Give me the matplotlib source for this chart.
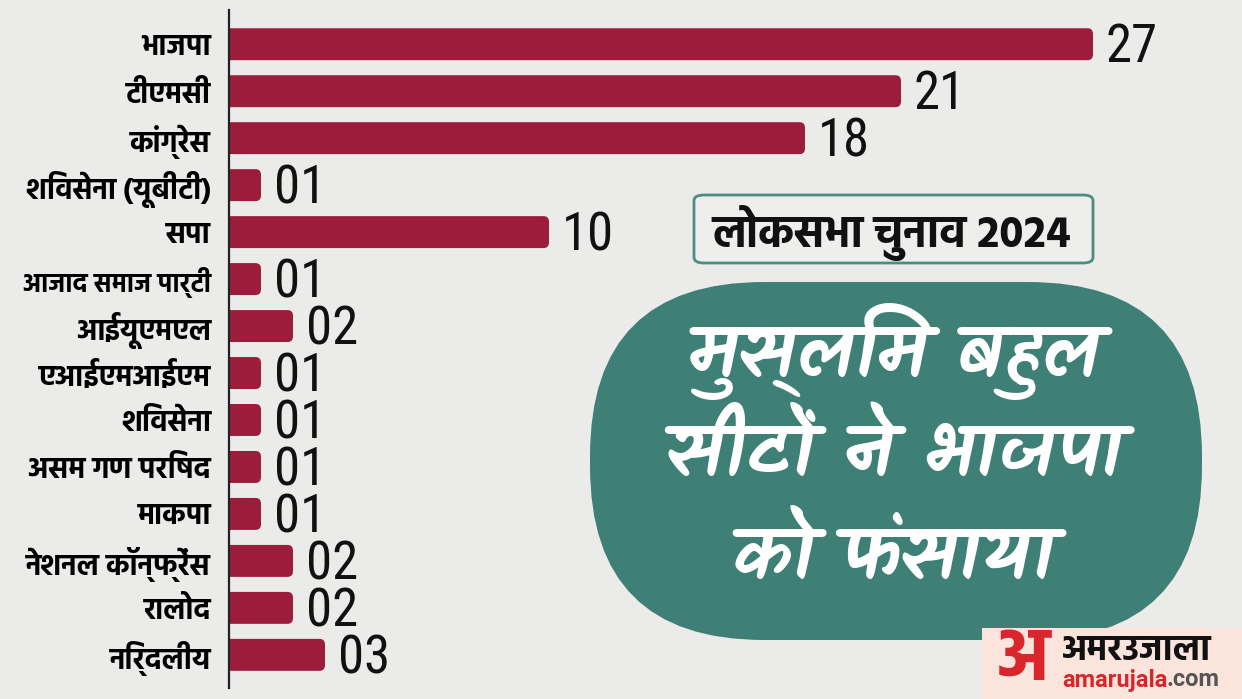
import matplotlib
matplotlib.use("Agg")
import matplotlib.pyplot as plt
from matplotlib import font_manager
from matplotlib.patches import FancyBboxPatch, Rectangle

# data
parties = ['भाजपा', 'टीएमसी', 'कांग्रेस', 'शिवसेना (यूबीटी)', 'सपा', 'आजाद समाज पार्टी',
           'आईयूएमएल', 'एआईएमआईएम', 'शिवसेना', 'असम गण परिषद', 'माकपा',
           'नेशनल कॉन्फ्रेंस', 'रालोद', 'निर्दलीय']
seats = [27, 21, 18, 1, 10, 1, 2, 1, 1, 1, 1, 2, 2, 3]
seat_labels = ['27', '21', '18', '01', '10', '01', '02', '01', '01', '01', '01', '02', '02', '03']
title_box = 'लोकसभा चुनाव 2024'
headline = ['मुस्लिम बहुल', 'सीटों ने भाजपा', 'को फंसाया']

BAR = '#9b1c3b'
TEAL = '#3e7f76'
BG = '#ebebea'

names = {f.name for f in font_manager.fontManager.ttflist}


def pick(*prefs):
    for p in prefs:
        if p in names:
            return p
    return 'DejaVu Sans'


HIND = pick('Hind', 'Ek Mukta', 'Mukta', 'FreeSans')
HAND = pick('Kalam', 'Amita', 'Hind')
NUM = pick('Roboto Condensed', 'Barlow Condensed', 'Oswald', 'Archivo Narrow',
           'Liberation Sans Narrow', 'Roboto')
plt.rcParams['font.family'] = [HIND, 'DejaVu Sans']

W, H = 1242, 699
fig = plt.figure(figsize=(W / 100, H / 100), dpi=100, facecolor=BG)


def fx(px):
    return px / W


def fy(py):
    return 1 - py / H


# bar axes: spine at 229px, 32px per seat, bar centres 42..657px
ax = fig.add_axes([fx(229), fy(688), fx(W - 229), (688 - 10) / H])
ax.set_facecolor('none')
ypos = list(range(len(parties)))
bars = ax.barh(ypos, seats, height=0.68, color=BAR)
ax.set_xlim(0, (W - 229) / 32)
ax.set_ylim(len(parties) - 1 + (688 - 657) / 43.93, -(42 - 10) / 43.93)

# swap the plain bars for ones with rounded ends (left end hides past the spine)
for r in bars:
    x0, y0 = r.get_x(), r.get_y()
    w, h = r.get_width(), r.get_height()
    r.set_visible(False)
    ax.add_patch(FancyBboxPatch((x0 - 0.4, y0), w + 0.4, h,
                                boxstyle='round,pad=0,rounding_size=0.17',
                                mutation_aspect=32 / 43.93,
                                facecolor=BAR, edgecolor='none'))

ax.set_yticks(ypos)
ax.set_yticklabels(parties, fontsize=21, fontweight='bold', family=[HIND, 'DejaVu Sans'])
ax.get_yticklabels()[5].set_fontsize(18.5)
ax.tick_params(axis='y', length=0, pad=13)
ax.set_xticks([])
for s in ['top', 'right', 'bottom']:
    ax.spines[s].set_visible(False)
ax.spines['left'].set_linewidth(1.6)
ax.spines['left'].set_color('#222222')
ax.spines['left'].set_zorder(5)

for y, v, lab in zip(ypos, seats, seat_labels):
    ax.text(v + 0.4, y + 0.08, lab, va='center', ha='left', fontsize=38,
            family=[NUM, 'DejaVu Sans'], color='#111111')

# teal blob with headline
blob = FancyBboxPatch((fx(590), fy(640)), fx(612), (640 - 282) / H,
                      boxstyle='round,pad=0,rounding_size=0.14',
                      transform=fig.transFigure, facecolor=TEAL, edgecolor='none',
                      mutation_aspect=W / H)
fig.patches.append(blob)
for i, line in enumerate(headline):
    fig.text(fx(893), fy(352 + i * 103), line, ha='center', va='center',
             fontsize=54, color='white', fontweight='bold', family=[HAND, 'DejaVu Sans'])

# title box
tb = FancyBboxPatch((fx(694), fy(263)), fx(399), (263 - 195) / H,
                    boxstyle='round,pad=0,rounding_size=0.008',
                    transform=fig.transFigure, facecolor='#eeeeed',
                    edgecolor='#4c8c82', linewidth=2)
fig.patches.append(tb)
fig.text(fx(892), fy(233), title_box, ha='center', va='center', fontsize=32,
         fontweight='bold', color='#111111')

# logo
fig.patches.append(Rectangle((fx(982), 0), fx(W - 982), (H - 628) / H,
                             transform=fig.transFigure, facecolor='#fbe4dc',
                             edgecolor='none'))
fig.text(fx(1023), fy(660), 'अ', ha='center', va='center', fontsize=54,
         fontweight='bold', color='#d9262c')
fig.text(fx(1062), fy(650), 'अमरउजाला', ha='left', va='center', fontsize=26,
         fontweight='bold', color='#111111')
fig.text(fx(1062), fy(680), 'amarujala', ha='left', va='center', fontsize=17,
         fontweight='bold', color='#d9262c', family=['Roboto', 'DejaVu Sans'])
fig.text(fx(1166), fy(680), '.com', ha='left', va='center', fontsize=17,
         fontweight='bold', color='#555555', family=['Roboto', 'DejaVu Sans'])

fig.savefig('out.png', dpi=100, facecolor=BG)
